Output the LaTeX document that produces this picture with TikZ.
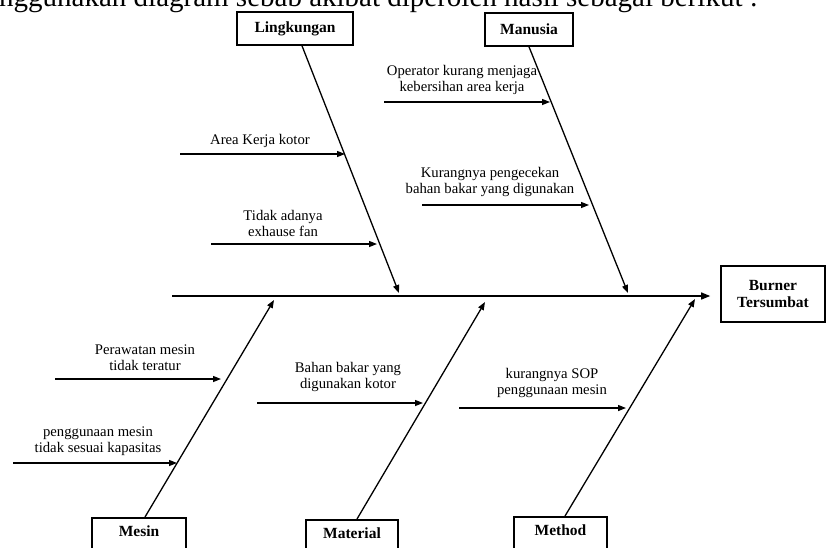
\documentclass[tikz,border=0pt]{standalone}
\usepackage{fontspec}
\setmainfont{Liberation Serif}
\usetikzlibrary{arrows.meta}
\begin{document}
\begin{tikzpicture}[x=1pt,y=-1pt,
  box/.style={draw, line width=1.6pt, font=\fontsize{15.5}{17.5}\selectfont\bfseries, inner sep=0pt, align=center},
  bottombox/.style={anchor=north, inner ysep=5pt, text height=14pt, text depth=18pt},
  lbl/.style={font=\fontsize{14.7}{16}\selectfont, align=center, inner sep=0pt},
  bone/.style={line width=1.3pt, -{Triangle[length=8pt,width=6pt]}},
  arr/.style={line width=1.3pt, -{Triangle[length=8pt,width=6pt]}},
  spine/.style={line width=1.4pt, -{Triangle[length=9pt,width=7pt]}}]
\useasboundingbox (0,0) rectangle (826,547);
\fill[white] (0,0) rectangle (826,547);

% cut-off heading line
\node[anchor=base west, inner sep=0pt, font=\fontsize{29}{34}\selectfont] (head) at (-1,6.5) {nggunakan diagram sebab akibat diperoleh hasil sebagai berikut :};

% category boxes
\node[box, minimum width=116pt, minimum height=33pt] (lingk) at (295,28.5) {Lingkungan};
\node[box, minimum width=88pt, minimum height=33pt] (manusia) at (529,29.5) {Manusia};
\node[box, minimum width=104pt, minimum height=56pt] (burner) at (773,294) {Burner\\Tersumbat};
\node[box, bottombox, minimum width=94pt] (mesin) at (139,517) {Mesin};
\node[box, bottombox, minimum width=92pt] (material) at (352,519) {Material};
\node[box, bottombox, minimum width=93pt] (method) at (560.5,516) {Method};

% spine
\coordinate (s0) at (172,296);
\draw[spine] (s0) -- ([xshift=-10pt]s0 -| burner.west);

% bone tips on the spine
\coordinate (tL) at (399,293);
\coordinate (tM) at (628,293);
\coordinate (tMe) at (274,300);
\coordinate (tMa) at (485,302);
\coordinate (tMt) at (695,299);

\draw[bone] ([xshift=7pt]lingk.south) -- (tL);
\draw[bone] (manusia.south) -- (tM);
\draw[bone] ([xshift=6pt]mesin.north) -- (tMe);
\draw[bone] ([xshift=5pt]material.north) -- (tMa);
\draw[bone] ([xshift=4.5pt]method.north) -- (tMt);

% cause arrows
\coordinate (a1s) at (384,102); \coordinate (a1e) at (550,102);
\coordinate (a2s) at (180,154); \coordinate (a2e) at (345,154);
\coordinate (a3s) at (422,205); \coordinate (a3e) at (589,205);
\coordinate (a4s) at (211,244); \coordinate (a4e) at (377,244);
\coordinate (b1s) at (55,379);  \coordinate (b1e) at (221,379);
\coordinate (b2s) at (13,463);  \coordinate (b2e) at (177,463);
\coordinate (b3s) at (257,403); \coordinate (b3e) at (423,403);
\coordinate (b4s) at (459,408); \coordinate (b4e) at (626,408);
\foreach \p in {a1,a2,a3,a4,b1,b2,b3,b4} \draw[arr] (\p s) -- (\p e);

% cause labels
\node[lbl] (l1) at (462,80) {Operator kurang menjaga\\kebersihan area kerja};
\node[lbl] (l2) at (260,141) {Area Kerja kotor};
\node[lbl] (l3) at (490,182) {Kurangnya pengecekan\\bahan bakar yang digunakan};
\node[lbl] (l4) at (283,223) {Tidak adanya\\exhause fan};
\node[lbl] (l5) at (145,358) {Perawatan mesin\\tidak teratur};
\node[lbl] (l6) at (98,441) {penggunaan mesin\\tidak sesuai kapasitas};
\node[lbl] (l7) at (348,377) {Bahan bakar yang\\digunakan kotor};
\node[lbl] (l8) at (552,383) {kurangnya SOP\\penggunaan mesin};
\end{tikzpicture}
\end{document}
